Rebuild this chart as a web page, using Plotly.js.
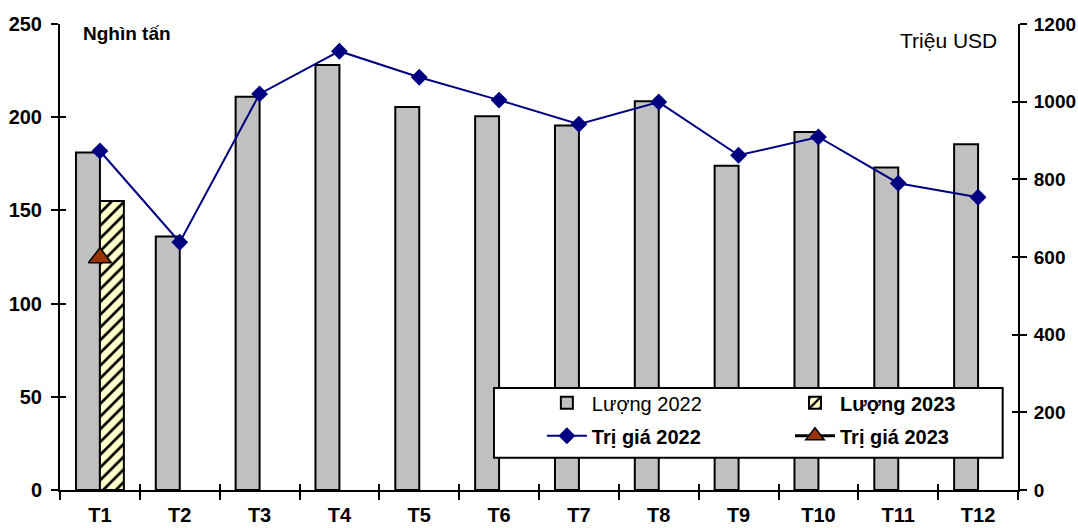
<!DOCTYPE html>
<html>
<head>
<meta charset="utf-8">
<script src="https://cdn.plot.ly/plotly-3.0.1.min.js"></script>
<style>html,body{margin:0;padding:0;background:#fff;}#chart{width:1078px;height:528px;}</style>
</head>
<body>
<div id="chart"></div>
<script>
var months = ["T1","T2","T3","T4","T5","T6","T7","T8","T9","T10","T11","T12"];
var luong2022 = [181, 136, 211, 228, 205.5, 200.5, 195.5, 208.5, 174, 192, 173, 185.5];
var luong2023 = [155];
var trigia2022 = [873, 638, 1020, 1130, 1063, 1004, 942, 999, 862, 909, 790, 754];
var trigia2023 = [598];
var months2023 = ["T1"];

var FONT = "Liberation Sans, Arial, sans-serif";
var TICKFONT = {family: FONT, size: 20, color: "#000", weight: "bold"};
var RTICKFONT = {family: FONT, size: 19, color: "#000", weight: "bold"};

// Bars: 2022 left of the category centre, 2023 right of it (each 0.3 category wide)
var traces = [
  {
    type: "bar", name: "Lượng 2022", x: months, y: luong2022,
    xaxis: "x", yaxis: "y", offset: -0.3, width: 0.3,
    marker: {color: "#c0c0c0", line: {color: "#000", width: 2}},
    legend: "legend", legendgroup: "a"
  },
  {
    type: "bar", name: "<b>Lượng 2023</b>", x: months2023, y: luong2023,
    xaxis: "x", yaxis: "y3", offset: 0, width: 0.3,
    marker: {color: "#ffffcc", line: {color: "#000", width: 2},
      pattern: {shape: "/", bgcolor: "#ffffcc", fgcolor: "#000", size: 9, solidity: 0.3}},
    legend: "legend2", legendgroup: "c"
  },
  {
    type: "scatter", mode: "lines+markers", name: "<b>Trị giá 2022</b>", x: months, y: trigia2022,
    xaxis: "x2", yaxis: "y2",
    line: {color: "#000080", width: 2},
    marker: {symbol: "diamond", size: 13, color: "#000080"},
    legend: "legend", legendgroup: "b"
  },
  {
    type: "scatter", mode: "lines+markers", name: "<b>Trị giá 2023</b>", x: months2023, y: trigia2023,
    xaxis: "x2", yaxis: "y4",
    line: {color: "#000", width: 3},
    marker: {symbol: "triangle-up", size: 20, color: "#993300", line: {color: "#000", width: 1.5}},
    legend: "legend2", legendgroup: "d"
  }
];

var legendCommon = {
  orientation: "v", bgcolor: "rgba(0,0,0,0)", borderwidth: 0,
  font: {family: FONT, size: 20, color: "#000"},
  yanchor: "top", xanchor: "left", tracegroupgap: 4, itemwidth: 40
};

var layout = {
  width: 1078, height: 528,
  margin: {l: 60, r: 60, t: 24, b: 38},
  paper_bgcolor: "#fff", plot_bgcolor: "#fff",
  font: {family: FONT, size: 18, color: "#000"},
  barmode: "overlay",
  showlegend: true,
  xaxis: {
    type: "category", categoryorder: "array", categoryarray: months, range: [-0.5, 11.5],
    tickson: "boundaries", ticks: "outside", ticklen: 8, tickwidth: 2, tickcolor: "#000",
    showline: true, linecolor: "#000", linewidth: 2, showgrid: false, zeroline: false,
    tickfont: TICKFONT, ticklabelstandoff: 6
  },
  xaxis2: {
    type: "category", categoryorder: "array", categoryarray: months, range: [-0.5, 11.5],
    overlaying: "x", anchor: "y", side: "bottom",
    tickson: "boundaries", ticks: "inside", ticklen: 6, tickwidth: 2, tickcolor: "#000",
    showticklabels: false, showline: false, showgrid: false, zeroline: false
  },
  yaxis: {
    range: [0, 250], dtick: 50, ticks: "outside", ticklen: 7, tickwidth: 2, tickcolor: "#000",
    showline: true, linecolor: "#000", linewidth: 2, showgrid: false, zeroline: false,
    tickfont: TICKFONT, ticklabelstandoff: 5
  },
  yaxis3: {
    range: [0, 250], dtick: 50, overlaying: "y", anchor: "x", side: "left",
    ticks: "inside", ticklen: 6, tickwidth: 2, tickcolor: "#000", showticklabels: false,
    showline: false, showgrid: false, zeroline: false
  },
  yaxis2: {
    range: [0, 1200], dtick: 200, overlaying: "y", anchor: "x2", side: "right",
    ticks: "outside", ticklen: 7, tickwidth: 2, tickcolor: "#000",
    showline: true, linecolor: "#000", linewidth: 2, showgrid: false, zeroline: false,
    tickfont: RTICKFONT, ticklabelstandoff: 3
  },
  yaxis4: {
    range: [0, 1200], dtick: 200, overlaying: "y", anchor: "x2", side: "right",
    ticks: "inside", ticklen: 6, tickwidth: 2, tickcolor: "#000", showticklabels: false,
    showline: false, showgrid: false, zeroline: false
  },
  legend: Object.assign({}, legendCommon, {x: 0.503, y: 0.229}),
  legend2: Object.assign({}, legendCommon, {x: 0.762, y: 0.229}),
  shapes: [{
    type: "rect", xref: "paper", yref: "paper", layer: "above",
    x0: 0.453, x1: 0.984, y0: 0.069, y1: 0.219,
    fillcolor: "#fff", line: {color: "#000", width: 2}
  }],
  annotations: [
    {text: "<b>Nghìn tấn</b>", xref: "paper", yref: "paper", x: 0.022, y: 0.98, xanchor: "left", yanchor: "middle",
     showarrow: false, font: {family: FONT, size: 19, color: "#000"}},
    {text: "Triệu USD", xref: "paper", yref: "paper", x: 0.98, y: 0.965, xanchor: "right", yanchor: "middle",
     showarrow: false, font: {family: FONT, size: 21, color: "#000"}}
  ]
};

Plotly.newPlot("chart", traces, layout, {displayModeBar: false, staticPlot: true});
</script>
</body>
</html>
